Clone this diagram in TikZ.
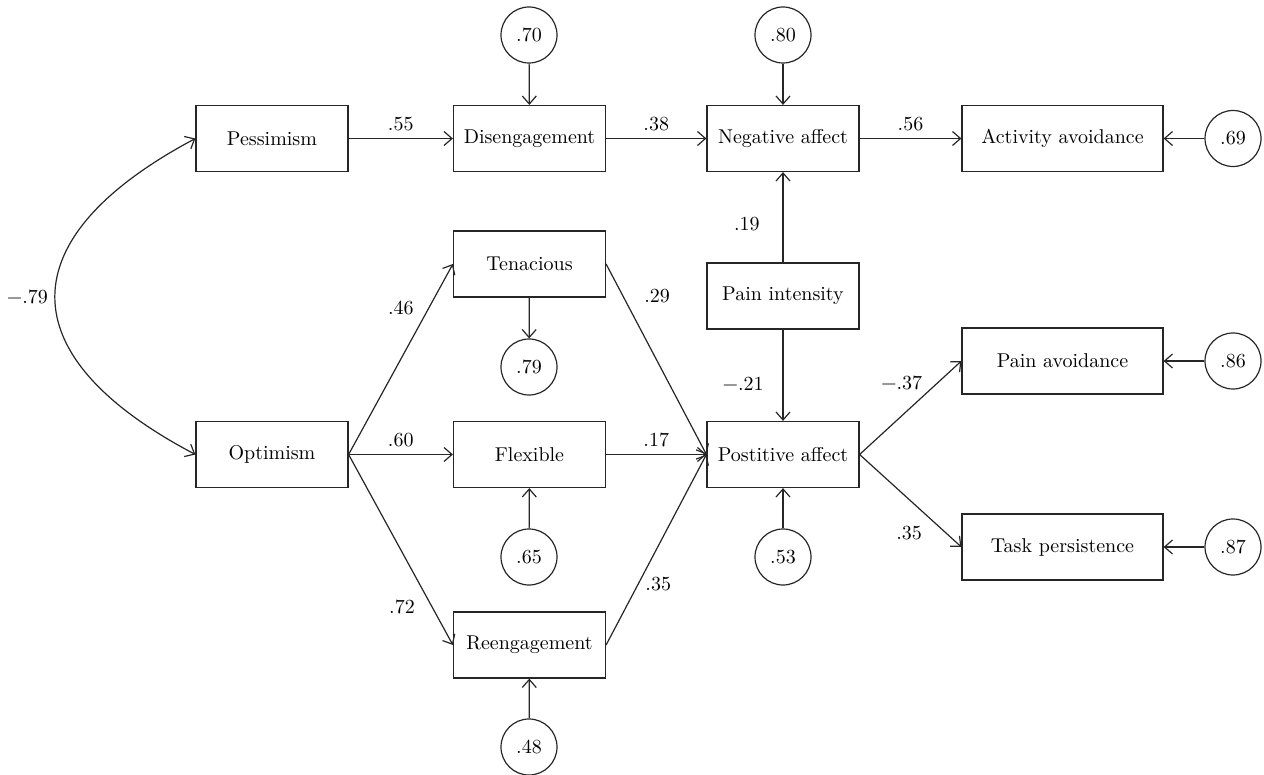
\documentclass[tikz,border=0pt]{standalone}
\usetikzlibrary{arrows.meta}
\tikzset{
  var/.style={draw=black!85,line width=0.6pt,minimum width=76pt,minimum height=33pt,inner sep=2pt},
  outvar/.style={var,minimum width=100.5pt},
  err/.style={draw=black!85,line width=0.6pt,circle,minimum size=28pt,inner sep=0pt},
  link/.style={draw=black!85,line width=0.6pt,-{Straight Barb[length=4pt,width=7pt]}},
  covar/.style={link,{Straight Barb[length=4pt,width=7pt]}-{Straight Barb[length=4pt,width=7pt]}},
}
\begin{document}
\begin{tikzpicture}[x=0.5pt,y=-0.5pt]
        \useasboundingbox (0,0) rectangle (1264,775);
        % observed variables
        \node[var] (pes) at (272,138.5) {Pessimism};
        \node[var] (dis) at (529.5,138.5) {Disengagement};
        \node[var] (neg) at (783,138.5) {Negative affect};
        \node[outvar] (act) at (1062.5,138.5) {Activity avoidance};
        \node[var] (ten) at (529.5,264) {Tenacious};
        \node[var] (pint) at (783,296) {Pain intensity};
        \node[outvar] (pav) at (1062.5,361) {Pain avoidance};
        \node[var] (opt) at (272,454.5) {Optimism};
        \node[var] (flex) at (529.5,454.5) {Flexible};
        \node[var] (pos) at (783,454.5) {Postitive affect};
        \node[outvar] (task) at (1062.5,547) {Task persistence};
        \node[var] (reen) at (529.5,645) {Reengagement};
        % error terms
        \node[err] (eDis) at (529,35) {.70};
        \node[err] (eNeg) at (783,35) {.80};
        \node[err] (eAct) at (1233,138.5) {.69};
        \node[err] (eTen) at (529,367) {.79};
        \node[err] (ePav) at (1233,361) {.86};
        \node[err] (eFlex) at (529,557) {.65};
        \node[err] (ePos) at (783,557) {.53};
        \node[err] (eTask) at (1233,547) {.87};
        \node[err] (eReen) at (529,747) {.48};
        % paths
        \draw[link] (pes) -- node[pos=0.5,above] {.55} (dis);
        \draw[link] (dis) -- node[pos=0.5,above] {.38} (neg);
        \draw[link] (neg) -- node[pos=0.5,above] {.56} (act);
        \draw[link] (pint) -- node[pos=0.43,left=8pt] {.19} (neg);
        \draw[link] (pint) -- node[pos=0.59,left=6pt] {−.21} (pos);
        \draw[link] (opt.east) -- node[pos=0.77,left=4pt] {.46} (ten.west);
        \draw[link] (opt) -- node[pos=0.5,above] {.60} (flex);
        \draw[link] (opt.east) -- node[pos=0.8,left=5pt] {.72} (reen.west);
        \draw[link] (ten.east) -- node[pos=0.17,right=7pt] {.29} (pos.west);
        \draw[link] (flex) -- node[pos=0.5,above] {.17} (pos);
        \draw[link] (reen.east) -- node[pos=0.32,right] {.35} (pos.west);
        \draw[link] (pos.east) -- node[pos=0.765,left=4pt] {−.37} (pav.west);
        \draw[link] (pos.east) -- node[pos=0.85,left=8.5pt] {.35} (task.west);
        \draw[covar] (pes.west) .. controls +(-186,99) and +(-188,-99) .. (opt.west) node[pos=0.5,left=0pt] {−.79};
        % residuals
        \draw[link] (eDis) -- (dis);
        \draw[link] (eNeg) -- (neg);
        \draw[link] (eAct) -- (act);
        \draw[link] (ten) -- (eTen);
        \draw[link] (ePav) -- (pav);
        \draw[link] (eFlex) -- (flex);
        \draw[link] (ePos) -- (pos);
        \draw[link] (eTask) -- (task);
        \draw[link] (eReen) -- (reen);
\end{tikzpicture}
\end{document}
